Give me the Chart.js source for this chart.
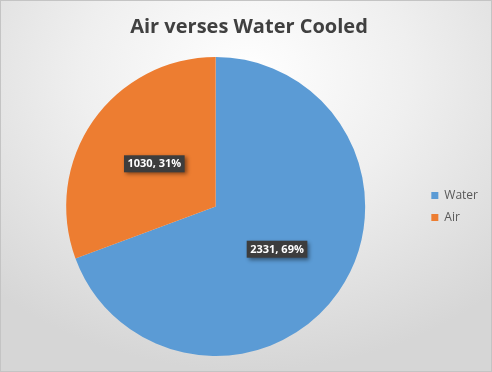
<!DOCTYPE html>
<html>
<head>
<meta charset="utf-8">
<script src="https://cdn.jsdelivr.net/npm/chart.js@4"></script>
<style>
  html, body { margin: 0; padding: 0; }
  body { width: 492px; height: 372px; overflow: hidden; }
  #wrap {
    position: relative; width: 490px; height: 370px;
    border: 1px solid #c4c4c4;
    background: radial-gradient(ellipse 75% 80% at 50% 20%, #ffffff 0%, #efefef 45%, #d6d6d6 100%);
  }
</style>
</head>
<body>
<div id="wrap"><canvas id="pieChart" width="490" height="370"></canvas></div>
<script>
const categories = ['Water', 'Air'];
const counts = [2331, 1030];
const colors = ['#5b9bd5', '#ed7d31'];

// value, percent labels in dark boxes
const sliceLabels = {
    id: 'sliceLabels',
    afterDatasetsDraw(chart) {
        const ctx = chart.ctx;
        const meta = chart.getDatasetMeta(0);
        const data = chart.data.datasets[0].data;
        const total = data.reduce((a, b) => a + b, 0);
        ctx.save();
        ctx.font = 'bold 11px "Open Sans", sans-serif';
        ctx.textAlign = 'center';
        ctx.textBaseline = 'middle';
        meta.data.forEach((arc, i) => {
            const p = arc.getCenterPoint();
            const txt = data[i] + ', ' + Math.round(data[i] / total * 100) + '%';
            const w = ctx.measureText(txt).width + 7;
            const h = 17;
            ctx.shadowColor = 'rgba(0,0,0,0.45)';
            ctx.shadowBlur = 4;
            ctx.shadowOffsetX = 2;
            ctx.shadowOffsetY = 2;
            ctx.fillStyle = '#3d3d3d';
            ctx.fillRect(p.x - w / 2, p.y - h / 2, w, h);
            ctx.shadowColor = 'transparent';
            ctx.fillStyle = '#ffffff';
            ctx.fillText(txt, p.x, p.y + 0.5);
        });
        ctx.restore();
    }
};

new Chart(document.getElementById('pieChart'), {
    type: 'pie',
    data: {
        labels: categories,
        datasets: [{
            data: counts,
            backgroundColor: colors,
            borderWidth: 0,
        }]
    },
    options: {
        responsive: false,
        animation: false,
        layout: { padding: { left: 9, right: 3, top: 0, bottom: 15 } },
        plugins: {
            title: {
                display: true,
                text: 'Air verses Water Cooled',
                color: '#404040',
                font: { family: 'Open Sans', size: 20, weight: 'bold' },
                padding: { top: 14, bottom: 18 }
            },
            legend: {
                position: 'right',
                fullSize: false,
                labels: {
                    color: '#595959',
                    font: { family: 'Open Sans', size: 12 },
                    boxWidth: 7,
                    boxHeight: 7,
                    padding: 10
                }
            },
            tooltip: { enabled: false }
        }
    },
    plugins: [sliceLabels]
});
</script>
</body>
</html>
